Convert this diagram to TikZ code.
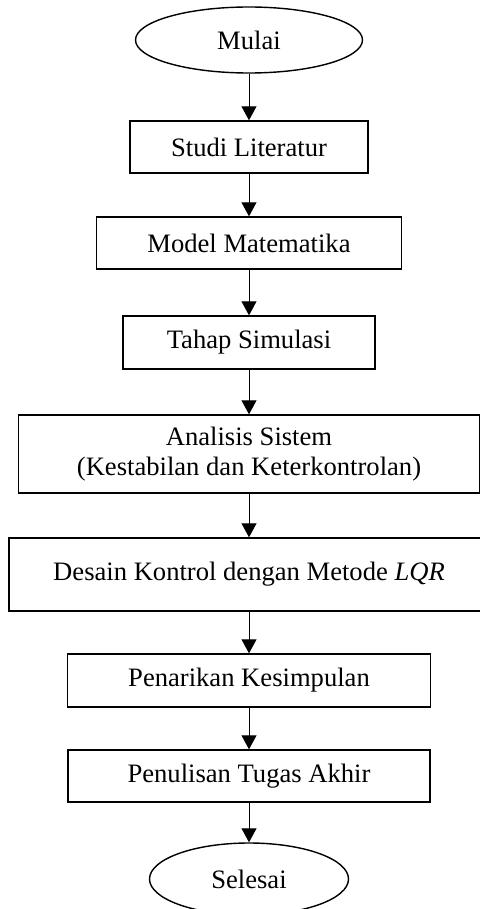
\documentclass[tikz,border=0pt]{standalone}
\usepackage{fontspec}
\setmainfont{Liberation Serif}
\usetikzlibrary{arrows.meta,shapes.geometric}

\begin{document}
\begin{tikzpicture}[x=0.5pt,y=-0.5pt,
    box/.style={draw, line width=0.7pt, rectangle, inner sep=0pt, align=center,
                font=\fontsize{13.3}{15}\selectfont},
    term/.style={draw, line width=0.7pt, ellipse, inner sep=0pt,
                 font=\fontsize{13.3}{15}\selectfont},
    flow/.style={-{Triangle[width=7.5pt,length=7pt]}, line width=0.5pt}]
  \useasboundingbox (0,0) rectangle (480,909);
  \node[term, minimum width=113.5pt, minimum height=33pt] (mulai) at (249,40) {Mulai};
  \node[box, minimum width=119pt, minimum height=26pt] (studi) at (249,147) {Studi Literatur};
  \node[box, minimum width=152.5pt, minimum height=26pt] (model) at (249,243) {Model Matematika};
  \node[box, minimum width=126pt, minimum height=26.5pt] (tahap) at (249,342.5) {Tahap Simulasi};
  \node[box, minimum width=230.5pt, minimum height=39pt] (analisis) at (249,454)
    {Analisis Sistem\\(Kestabilan dan Keterkontrolan)};
  \node[box, minimum width=240pt, minimum height=36.5pt] (desain) at (249,574.5)
    {Desain Kontrol dengan Metode \textit{LQR}};
  \node[box, minimum width=181.5pt, minimum height=26.5pt] (penarikan) at (249,680.5) {Penarikan Kesimpulan};
  \node[box, minimum width=181pt, minimum height=26pt] (penulisan) at (249,776) {Penulisan Tugas Akhir};
  \node[term, minimum width=99.5pt, minimum height=36pt] (selesai) at (249,879) {Selesai};
  \foreach \a/\b in {mulai/studi, studi/model, model/tahap, tahap/analisis,
                     analisis/desain, desain/penarikan, penarikan/penulisan,
                     penulisan/selesai}
    \draw[flow] (\a.south) -- (\b.north);
\end{tikzpicture}
\end{document}
